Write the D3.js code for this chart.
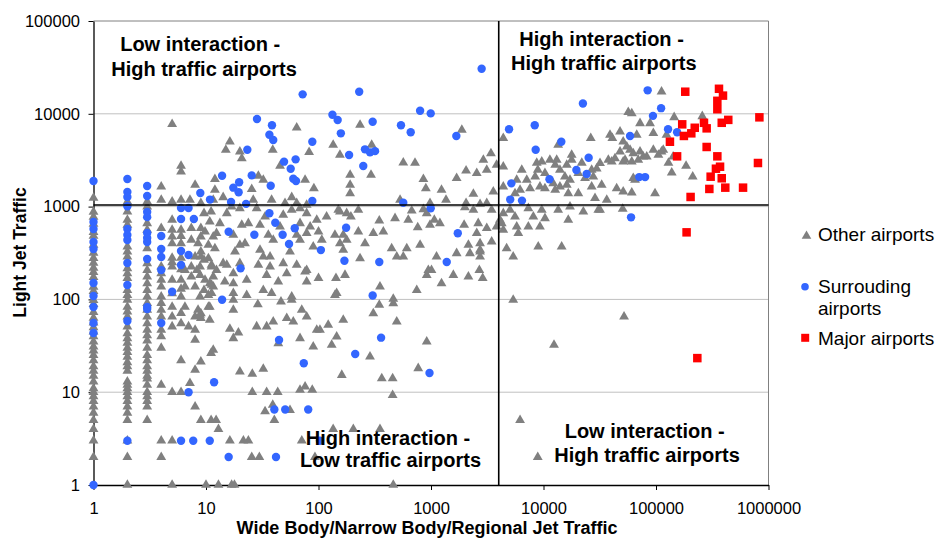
<!DOCTYPE html>
<html><head><meta charset="utf-8">
<script src="https://cdn.jsdelivr.net/npm/d3@7"></script>
<style>
html,body{margin:0;padding:0;background:#fff;}
svg{display:block;font-family:"Liberation Sans",Arial,Helvetica,sans-serif;}
</style></head><body>
<svg id="chart" width="938" height="538"></svg>
<script>
const xTicks = [1, 10, 100, 1000, 10000, 100000, 1000000];
const yTicks = [1, 10, 100, 1000, 10000, 100000];
const xTitle = "Wide Body/Narrow Body/Regional Jet Traffic";
const yTitle = "Light Jet Traffic";
const seriesNames = ["Other airports", "Surrouding airports", "Major airports"];
const quadrantText = [
  ["Low interaction -", "High traffic airports"],
  ["High interaction -", "High traffic airports"],
  ["High interaction -", "Low traffic airports"],
  ["Low interaction -", "High traffic airports"]
];
const dividerX = 4000;
const dividerY = 1040;

const otherAirports = [
[1,2],[1,3],[1,4],[1,5],[1,6],[1,7],[1,8],[1,9],[1,10],[1,11],[1,13],[1,15],[1,17],[1,19],[1,22],[1,25],[1,28],[1,31],[1,35],[1,40],[1,45],[1,50],[1,56],[1,63],[1,73],[1,89],[1,98],[1,123],[1,136],[1,174],[1,197],[1,218],[1,247],[1,279],[1,316],[1,386],[1,482],[1,532],[1,649],[1,772],[1,874],[1,1240],
[2,1],[2,2],[2,3],[2,5],[2,6],[2,7],[2,8],[2,9],[2,10],[2,11],[2,12],[2,13],[2,17],[2,19],[2,21],[2,24],[2,27],[2,30],[2,34],[2,38],[2,43],[2,51],[2,65],[2,74],[2,83],[2,99],[2,111],[2,126],[2,169],[2,191],[2,216],[2,288],[2,327],[2,370],[2,634],[2,717],[2,881],[2,1130],
[3,5],[3,7],[3,8],[3,9],[3,10],[3,12],[3,14],[3,15],[3,17],[3,19],[3,22],[3,25],[3,30],[3,36],[3,41],[3,47],[3,55],[3,65],[3,77],[3,91],[3,107],[3,126],[3,149],[3,176],[3,207],[3,245],[3,355],[3,560],[3,661],[3,1000],[3,1130],
[4,2],[4,3],[4,12],[4,30],[4,40],[4,47],[4,65],[4,77],[4,91],[4,107],[4,137],[4,162],[4,191],[4,225],[4,584],[4,1180],[4,1640],
[5,1],[5,3],[5,10],[5,51],[5,65],[5,83],[5,116],[5,162],[5,225],[5,250],[5,280],[5,402],[5,474],[5,560],[5,717],[5,1130],[5,7710],
[6,10],[6,22],[6,55],[6,71],[6,107],[6,130],[6,162],[6,210],[6,280],[6,400],[6,480],[6,560],[6,1180],[6,2380],[6,2740],
[8,1710],[7.2,1180],[9,1090],[9.6,847],[11.1,881],[7.4,584],[7.4,437],[9,584],[9,474],[8.5,402],[10.5,386],[11.6,474],[8,288],[9,288],[10.5,277],[7.4,225],[8.85,225],[11.2,225],[6.5,207],[7.4,176],[9.8,162],[11.2,143],[6.5,137],[8,137],[8.85,107],[10.5,111],[6.5,83],[8.5,77],[10.5,83],[8,65],[9,62.6],[10.8,60],[7,51],[8,47],
[7.2,12.5],[8,17.4],[8,7],[9,21.3],[9,5],[11.1,5],[11.1,26.3],[8,36.5],[10,1],[12.9,4],[12.3,5],[11.6,28.5],[9,70.8],[11.6,176],[10.8,149],[9.6,126],[8.3,207],[12.4,207],[15.3,235],
[20,16.6],[25.8,15.7],[32.3,17.8],[25.8,10],[34.6,10],[43.4,10],[68.5,10.6],[88,10.6],[33.5,6.2],[40.5,5],[55.8,6.4],[16.3,48],[19.4,43.8],[17.5,38.1],[28.2,51],[34.6,51],[39.6,57.5],[52.2,62.6],[59.7,57.5],[68.5,38.1],[89.8,30.9],[96.5,46.8],[28.9,88.5],[23,111],[17.5,98.6],[17.5,77],[17.5,149],[17.5,117],[46.4,94.5],[57.8,98.6],[71,77],
[11.2,117],[38.3,117],[140,111],[347,87],[462,90.8],[747,126],[10.8,83],[8.85,68],[78.5,65],[122,53],[166,60],[307,70.8],[496,57.5],[145,39.6],[131,32.3],[43.9,33.6],[287,24.1],[161,15.3],[916,35],[770,18.1],[365,14.1],[456,14.1],[456,9.3],[76,11.5],[16.3,3],[21.5,3],[23.8,3],[25.5,2],[29.8,2],[39.2,7.3],[71,3],[93,2],[135,4],[204,4],[352,4],[12.9,1],[16.9,1],[17.9,1],[462,1],
[234,277],[496,288],[567,288],[1120,288],[1690,314],[2220,314],[2730,327],[2730,288],[76,199],[78.5,155],[100,169],[143,169],[172,183],[352,137],[916,183],[1010,207],[1240,149],[1580,183],[2150,176],[2690,207],[2880,169],[5380,98.6],[103,46.8],[12400,32.3],[6190,5],[8890,2],[52000,65],
[234,7570],[1880,6690],[4390,5450],[297,4610],[155,3600],[567,2970],[721,2950],[3410,3750],[2920,3180],[3830,2810],[4390,2700],[191,2190],[293,2190],[856,1970],[2050,2440],[2550,2290],[1690,2020],[3130,2480],[191,1710],[191,1390],[900,1570],[1240,1510],[1360,1180],[2380,1370],[3580,1450],[2050,1090],[2730,1060],[3130,1090],[531,1180],[980,1090],[155,881],[226,919],[194,778],[674,903],[628,717],[856,935],[916,847],[1070,717],[1200,661],[980,634],[762,598],[479,748],[347,705],[377,537],[307,516],[166,494],[226,537],[2000,982],[2380,919],[3460,919],[1970,634],[2630,661],[3130,584],[3830,607],[4100,717],[2550,516],[2730,402],[3460,419],[2730,341],[2150,386],[259,402],[447,355],[609,355],[800,386],[166,341],[947,207],[462,101],
[135,4610],[76,1940],[91,1570],
[64,7080],[16.3,5000],[15,4070],[20,3910],[20.8,3310],[39.2,4070],[82.5,3850],[45.5,2740],[12,1970],[12,1510],[14.2,1260],[29.2,2140],[32.3,1940],[25.5,1540],[38.3,1180],[57.8,1260],[50.4,1090],[64,1090],[78.5,1040],[15.3,847],[16.9,1000],[20,959],[28.2,959],[33.5,778],[48.6,813],[57.8,919],[68.5,959],[78.5,847],[96.5,717],[118,778],[150,919],[178,847],[10.8,687],[13.3,661],[20.8,634],[23.8,661],[30.2,634],[45.5,607],[68.5,661],[84.3,607],[9.8,537],[12.4,516],[17.5,494],[20,386],[22.2,402],[35.8,494],[39.6,437],[64,494],[68.5,437],[78.5,516],[100,537],[107,437],[140,494],[155,402],[178,437],[9,327],[12,355],[18.1,327],[30.2,341],[32.3,288],[37.1,288],[55.8,327],[89.8,370],[9.6,266],[11.2,235],[14.2,245],[20,245],[29.2,235],[37.1,225],[48.6,245],[64,235],[78.5,207],[17.5,191],[23,162],[34.6,183],[43.9,155],[52.2,191],[8.85,183],[11.6,137],[14.7,155],[32.3,126],[57.8,107],[145,117],
[11.6,1180],[26.3,1180],
[26300,5450],[17800,3600],[13500,4610],[13100,3180],[11400,3180],[9650,3050],[8710,2950],[8900,2480],[6410,2480],[17800,3180],[21900,2950],[26800,2480],[29700,2560],[12700,2810],[16100,2810],[8430,2100],[10300,2290],[14000,2480],[15500,2100],[17200,1940],[20400,2290],[23400,2020],[27700,2100],[7100,1940],[6190,1510],[5580,1390],[7600,1570],[10300,1570],[12700,1510],[14000,1640],[16600,1390],[20400,1390],[26800,1640],[28700,1230],[22600,881],[30700,919],[13500,919],[9650,919],[7330,959],[4390,847],[5580,778],[10300,748],[16600,717],[9300,607],[7330,607],[4250,661],[5780,607],
[4390,1640],[5780,1940],[9300,1640],[12200,1780],[16100,1710],[5040,919],[17200,1000],[8120,778],[4390,560],[5970,516],[8980,370],[14500,370],[4700,355],[5380,288],
[112000,17300],[56700,10400],[60900,10100],[145000,9170],[258000,9400],[72100,7900],[88500,7900],[39000,5910],[47900,6410],[67400,5910],[94700,6170],[124000,5910],[51100,5000],[55000,4420],[47900,3910],[62800,3750],[94700,4070],[112000,3910],[77000,3450],[105000,3600],[142000,3450],[31800,2930],[40400,3050],[51100,3050],[60900,3050],[69600,3180],[129000,2950],[138000,2320],[185000,2740],[212000,2100],[62800,2020],[32900,1710],[44700,1570],[51100,1450],[60900,1410],[98000,1390],[36500,1180],[31800,919],[50600,942],
[37700,3180],[43200,3310],[53100,3180],[82700,3450],[116000,4070],[40900,5450],[65100,1940],[72100,3910],[58800,4070]
];

const surroundingAirports = [
[1,1890],[1,683],[1,574],[1,415],[1,349],[1,150],[1,109],[1,82.7],[1,55.7],[1,43.4],[1,1],
[2,1980],[2,1440],[2,1270],[2,1010],[2,574],[2,494],[2,437],[2,247],[2,143],[2,58.5],[2,3],
[3,1670],[3,1300],[3,875],[3,770],[3,520],[3,458],[3,415],[3,272],[3,82.7],[3,78.7],
[4,482],[4,349],[4,286],[4,207],[4,55.7],
[5,121],[6,967],[6,735],[6,332],[6,235],[6,3],[7,967],[7,301],[7.8,735],[8.9,1400],[10.85,1190],[7.7,3],[10.8,3],[7,10],[11.8,12.8],[15.9,2],[41.9,2],[40.5,6.5],[50.6,6.5],[81,6.5],[74,20.5],[44.6,36.5],[13.9,99],[20.3,216],
[105,340],[170,261],[347,253],[1380,253],[303,110],[360,38.7],[212,25.8],[970,16.1],[103,3],
[72.3,16200],[28.4,8790],[38.6,7520],[36.6,5950],[39.6,5220],[23.3,4100],[88.1,5000],[49.4,3050],[62.6,3230],[56.6,2560],[59.7,2000],[63.1,1890],[25.5,2170],[13.9,2150],[19.7,1830],[17.5,1600],[19.5,1430],[37.6,1680],[16.7,1120],[22.7,1070],[88.1,1150],[36.6,847],[41.3,670],[61.5,584],[48,498],[26.9,498],[15.9,536],[54.7,395],
[133,9780],[148,8560],[158,6160],[187,3600],[176,592],
[800,10800],[994,10100],[303,8200],[541,7520],[660,6320],[1680,5770],[259,4140],[287,3840],[318,3960],[250,2740],[567,1100],[994,960],[1730,516],[230,17300],[2820,30600],
[4940,6810],[8360,7520],[8520,4100],[22400,12900],[14400,5000],[25200,3360],[19600,2480],[24200,2250],[11300,1970],[5180,1780],[5060,1190],[6440,1160],
[84300,17900],[111000,11500],[94000,9500],[128000,6810],[154000,6320],[58800,5770],[71000,2080],[80000,2080],[60000,766]
];

const majorAirports = [
[182000,17300],[363000,18600],[394000,15700],[351000,13800],[351000,11200],[830000,9160],[439000,8600],[384000,8000],[267000,8000],[171000,7700],[221000,7070],[282000,6970],[206000,6160],[177000,5770],[133000,5000],[282000,4390],[351000,3480],[154000,3480],[806000,2950],[371000,2690],[341000,2560],[306000,2100],[384000,2020],[298000,1550],[413000,1600],[594000,1600],[203000,1270],[187000,528],[233000,23.3]
];

const svg = d3.select("#chart");
const x = d3.scaleLog().domain([1, 1e6]).range([93.5, 768.5]);
const y = d3.scaleLog().domain([1, 1e5]).range([485, 21]);

// gridlines
svg.append("g").selectAll("line").data(yTicks.slice(1, -1)).join("line")
  .attr("x1", x(1)).attr("x2", x(1e6))
  .attr("y1", d => y(d)).attr("y2", d => y(d))
  .attr("stroke", "#c0c0c0").attr("stroke-width", 1);

// frame top / right
svg.append("line").attr("x1", x(1)).attr("x2", x(1e6)).attr("y1", y(1e5)).attr("y2", y(1e5))
  .attr("stroke", "#808080").attr("stroke-width", 1);
svg.append("line").attr("x1", x(1e6)).attr("x2", x(1e6)).attr("y1", y(1e5)).attr("y2", y(1))
  .attr("stroke", "#808080").attr("stroke-width", 1);

// axes
const fmt = d3.format("d");
const yAxis = svg.append("g").attr("transform", `translate(${x(1)},0)`)
  .call(d3.axisLeft(y).tickValues(yTicks).tickFormat(fmt).tickSize(5).tickSizeOuter(0).tickPadding(8.5));
const xAxis = svg.append("g").attr("transform", `translate(0,${y(1)})`)
  .call(d3.axisBottom(x).tickValues(xTicks).tickFormat(fmt).tickSize(5).tickSizeOuter(0).tickPadding(12));
[xAxis, yAxis].forEach(g => {
  g.selectAll("text").attr("font-size", "16.5px").attr("font-family", '"Liberation Sans",Arial,sans-serif').attr("fill", "#000");
  g.selectAll("line").attr("stroke", "#000");
  g.select(".domain").attr("stroke", "#000").attr("stroke-width", 1.3);
});

// points
const tri = d3.symbol().type(d3.symbolTriangle).size(42);
svg.append("g").selectAll("path").data(otherAirports).join("path")
  .attr("d", tri)
  .attr("transform", d => `translate(${x(d[0])},${y(d[1])})`)
  .attr("fill", "#808080");
svg.append("g").selectAll("circle").data(surroundingAirports).join("circle")
  .attr("cx", d => x(d[0])).attr("cy", d => y(d[1])).attr("r", 4.2)
  .attr("fill", "#3366ff");
svg.append("g").selectAll("rect").data(majorAirports).join("rect")
  .attr("x", d => x(d[0]) - 4.25).attr("y", d => y(d[1]) - 4.25)
  .attr("width", 8.5).attr("height", 8.5)
  .attr("fill", "#ff0000");

// quadrant dividers
svg.append("line").attr("x1", x(1)).attr("x2", x(1e6)).attr("y1", y(dividerY)).attr("y2", y(dividerY))
  .attr("stroke", "#000").attr("stroke-width", 1.6);
svg.append("line").attr("x1", x(dividerX)).attr("x2", x(dividerX)).attr("y1", y(1e5)).attr("y2", y(1))
  .attr("stroke", "#000").attr("stroke-width", 1.6);

// quadrant labels
const qPos = [
  [[200.2, 51], [204, 76]],
  [[601.6, 45.7], [603.8, 70]],
  [[388, 445], [390.5, 467.2]],
  [[644.7, 438.3], [647, 461.7]]
];
quadrantText.forEach((lines, i) => {
  lines.forEach((t, j) => {
    svg.append("text").attr("x", qPos[i][j][0]).attr("y", qPos[i][j][1])
      .attr("text-anchor", "middle").attr("font-size", "20px").attr("font-weight", "bold")
      .attr("fill", "#000").text(t);
  });
});

// axis titles
svg.append("text").attr("x", 427).attr("y", 534).attr("text-anchor", "middle")
  .attr("font-size", "18px").attr("font-weight", "bold").text(xTitle);
svg.append("text").attr("transform", "translate(25.5,252.5) rotate(-90)").attr("text-anchor", "middle")
  .attr("font-size", "17.5px").attr("font-weight", "bold").text(yTitle);

// legend
const lg = svg.append("g");
lg.append("path").attr("d", d3.symbol().type(d3.symbolTriangle).size(40)).attr("transform", "translate(806.5,236)").attr("fill", "#808080");
lg.append("text").attr("x", 818).attr("y", 241).attr("font-size", "19px").text(seriesNames[0]);
lg.append("circle").attr("cx", 805).attr("cy", 286.7).attr("r", 3.8).attr("fill", "#3366ff");
const sWords = seriesNames[1].split(" ");
lg.append("text").attr("x", 818).attr("y", 293).attr("font-size", "19px").text(sWords[0]);
lg.append("text").attr("x", 818).attr("y", 315).attr("font-size", "19px").text(sWords[1]);
lg.append("rect").attr("x", 801.2).attr("y", 333.8).attr("width", 8).attr("height", 8).attr("fill", "#ff0000");
lg.append("text").attr("x", 818).attr("y", 345).attr("font-size", "19px").text(seriesNames[2]);
</script>
</body></html>
